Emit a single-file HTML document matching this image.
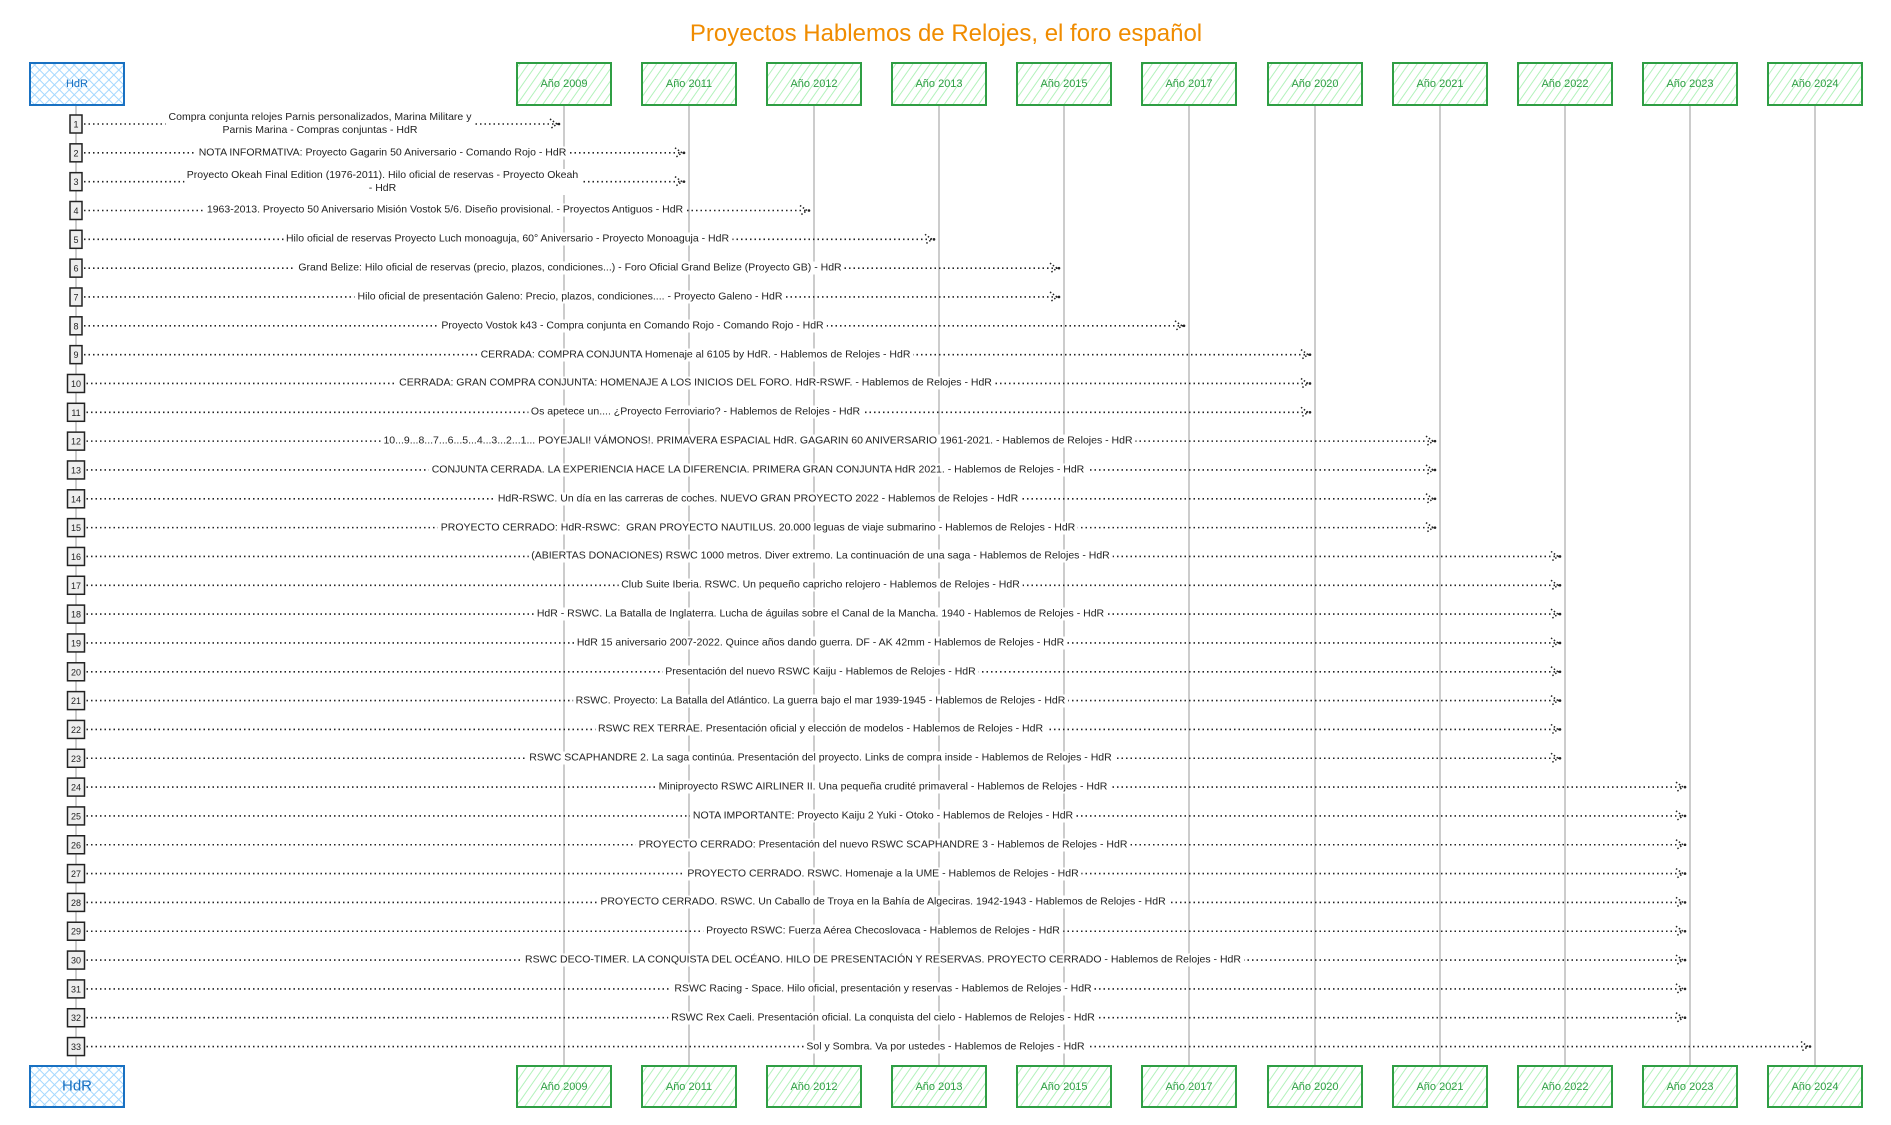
<!DOCTYPE html>
<html><head><meta charset="utf-8"><style>
html,body{margin:0;padding:0;background:#fff;}
body{width:1891px;height:1125px;position:relative;overflow:hidden;font-family:"Liberation Sans",sans-serif;}
.t{position:absolute;transform:translate(-50%,-50%);background:#fff;padding:0 3px;font-size:10.5px;color:#222;white-space:nowrap;text-align:center;line-height:13px;}
.lb{position:absolute;transform:translate(-50%,-50%);font-size:11px;color:#2f9e44;white-space:nowrap;}
</style></head><body>
<svg width="1891" height="1125" style="position:absolute;left:0;top:0">
<defs>
<pattern id="g" width="7" height="7" patternUnits="userSpaceOnUse" patternTransform="rotate(35)"><rect width="7" height="7" fill="#fff"/><line x1="0" y1="0" x2="0" y2="7" stroke="#b2f2bb" stroke-width="2"/></pattern>
<pattern id="b" width="7" height="7" patternUnits="userSpaceOnUse" patternTransform="rotate(45)"><rect width="7" height="7" fill="#fff"/><line x1="0" y1="0" x2="0" y2="7" stroke="#a5d8ff" stroke-width="2"/><line x1="0" y1="0" x2="7" y2="0" stroke="#a5d8ff" stroke-width="2"/></pattern>
</defs>
<text x="946" y="41" text-anchor="middle" font-family="Liberation Sans, sans-serif" font-size="24" fill="#f08c00">Proyectos Hablemos de Relojes, el foro español</text>
<g stroke="#aaa" stroke-width="1.2">
<line x1="76" y1="105" x2="76" y2="1066"/>
<line x1="564" y1="105" x2="564" y2="1066"/><line x1="689" y1="105" x2="689" y2="1066"/><line x1="814" y1="105" x2="814" y2="1066"/><line x1="939" y1="105" x2="939" y2="1066"/><line x1="1064" y1="105" x2="1064" y2="1066"/><line x1="1189" y1="105" x2="1189" y2="1066"/><line x1="1315" y1="105" x2="1315" y2="1066"/><line x1="1440" y1="105" x2="1440" y2="1066"/><line x1="1565" y1="105" x2="1565" y2="1066"/><line x1="1690" y1="105" x2="1690" y2="1066"/><line x1="1815" y1="105" x2="1815" y2="1066"/>
</g>
<g stroke="#1971c2" stroke-width="2" fill="url(#b)">
<rect x="30" y="63" width="94" height="42"/><rect x="30" y="1066" width="94" height="41"/>
</g>
<g stroke="#2f9e44" stroke-width="2" fill="url(#g)" id="boxes"></g>
<g id="rows"></g>
</svg>
<div id="labels"></div>
<script>
var xs=[564,689,814,939,1064,1189,1315,1440,1565,1690,1815];
var names=["Año 2009","Año 2011","Año 2012","Año 2013","Año 2015","Año 2017","Año 2020","Año 2021","Año 2022","Año 2023","Año 2024"];
var bx=document.getElementById('boxes'),NS="http://www.w3.org/2000/svg";
var lab=document.getElementById('labels');
xs.forEach(function(x,i){[[63,42],[1066,41]].forEach(function(p){var r=document.createElementNS(NS,'rect');r.setAttribute('x',x-47);r.setAttribute('y',p[0]);r.setAttribute('width',94);r.setAttribute('height',p[1]);bx.appendChild(r);
var d=document.createElement('div');d.className='lb';d.style.left=x+'px';d.style.top=(p[0]+p[1]/2)+'px';d.textContent=names[i];lab.appendChild(d);});});
var hd=document.createElement('div');hd.className='lb';hd.style.cssText='left:77px;top:84px;color:#1971c2';hd.textContent='HdR';lab.appendChild(hd);
hd=document.createElement('div');hd.className='lb';hd.style.cssText='left:77px;top:1086px;color:#1971c2;font-size:15px';hd.textContent='HdR';lab.appendChild(hd);
</script>
<div id="msgs">
<div class="t" data-r="1" data-t="0">Compra conjunta relojes Parnis personalizados, Marina Militare y<br>Parnis Marina - Compras conjuntas - HdR</div>
<div class="t" data-r="2" data-t="1">NOTA INFORMATIVA: Proyecto Gagarin 50 Aniversario - Comando Rojo - HdR</div>
<div class="t" data-r="3" data-t="1">Proyecto Okeah Final Edition (1976-2011). Hilo oficial de reservas - Proyecto Okeah<br>- HdR</div>
<div class="t" data-r="4" data-t="2">1963-2013. Proyecto 50 Aniversario Misión Vostok 5/6. Diseño provisional. - Proyectos Antiguos - HdR</div>
<div class="t" data-r="5" data-t="3">Hilo oficial de reservas Proyecto Luch monoaguja, 60° Aniversario - Proyecto Monoaguja - HdR</div>
<div class="t" data-r="6" data-t="4">Grand Belize: Hilo oficial de reservas (precio, plazos, condiciones...) - Foro Oficial Grand Belize (Proyecto GB) - HdR</div>
<div class="t" data-r="7" data-t="4">Hilo oficial de presentación Galeno: Precio, plazos, condiciones.... - Proyecto Galeno - HdR</div>
<div class="t" data-r="8" data-t="5">Proyecto Vostok k43 - Compra conjunta en Comando Rojo - Comando Rojo - HdR</div>
<div class="t" data-r="9" data-t="6">CERRADA: COMPRA CONJUNTA Homenaje al 6105 by HdR. - Hablemos de Relojes - HdR</div>
<div class="t" data-r="10" data-t="6">CERRADA: GRAN COMPRA CONJUNTA: HOMENAJE A LOS INICIOS DEL FORO. HdR-RSWF. - Hablemos de Relojes - HdR</div>
<div class="t" data-r="11" data-t="6">Os apetece un.... ¿Proyecto Ferroviario? - Hablemos de Relojes - HdR</div>
<div class="t" data-r="12" data-t="7">10...9...8...7...6...5...4...3...2...1... POYEJALI! VÁMONOS!. PRIMAVERA ESPACIAL HdR. GAGARIN 60 ANIVERSARIO 1961-2021. - Hablemos de Relojes - HdR</div>
<div class="t" data-r="13" data-t="7">CONJUNTA CERRADA. LA EXPERIENCIA HACE LA DIFERENCIA. PRIMERA GRAN CONJUNTA HdR 2021. - Hablemos de Relojes - HdR</div>
<div class="t" data-r="14" data-t="7">HdR-RSWC. Un día en las carreras de coches. NUEVO GRAN PROYECTO 2022 - Hablemos de Relojes - HdR</div>
<div class="t" data-r="15" data-t="7">PROYECTO CERRADO: HdR-RSWC:&nbsp; GRAN PROYECTO NAUTILUS. 20.000 leguas de viaje submarino - Hablemos de Relojes - HdR</div>
<div class="t" data-r="16" data-t="8">(ABIERTAS DONACIONES) RSWC 1000 metros. Diver extremo. La continuación de una saga - Hablemos de Relojes - HdR</div>
<div class="t" data-r="17" data-t="8">Club Suite Iberia. RSWC. Un pequeño capricho relojero - Hablemos de Relojes - HdR</div>
<div class="t" data-r="18" data-t="8">HdR - RSWC. La Batalla de Inglaterra. Lucha de águilas sobre el Canal de la Mancha. 1940 - Hablemos de Relojes - HdR</div>
<div class="t" data-r="19" data-t="8">HdR 15 aniversario 2007-2022. Quince años dando guerra. DF - AK 42mm - Hablemos de Relojes - HdR</div>
<div class="t" data-r="20" data-t="8">Presentación del nuevo RSWC Kaiju - Hablemos de Relojes - HdR</div>
<div class="t" data-r="21" data-t="8">RSWC. Proyecto: La Batalla del Atlántico. La guerra bajo el mar 1939-1945 - Hablemos de Relojes - HdR</div>
<div class="t" data-r="22" data-t="8">RSWC REX TERRAE. Presentación oficial y elección de modelos - Hablemos de Relojes - HdR</div>
<div class="t" data-r="23" data-t="8">RSWC SCAPHANDRE 2. La saga continúa. Presentación del proyecto. Links de compra inside - Hablemos de Relojes - HdR</div>
<div class="t" data-r="24" data-t="9">Miniproyecto RSWC AIRLINER II. Una pequeña crudité primaveral - Hablemos de Relojes - HdR</div>
<div class="t" data-r="25" data-t="9">NOTA IMPORTANTE: Proyecto Kaiju 2 Yuki - Otoko - Hablemos de Relojes - HdR</div>
<div class="t" data-r="26" data-t="9">PROYECTO CERRADO: Presentación del nuevo RSWC SCAPHANDRE 3 - Hablemos de Relojes - HdR</div>
<div class="t" data-r="27" data-t="9">PROYECTO CERRADO. RSWC. Homenaje a la UME - Hablemos de Relojes - HdR</div>
<div class="t" data-r="28" data-t="9">PROYECTO CERRADO. RSWC. Un Caballo de Troya en la Bahía de Algeciras. 1942-1943 - Hablemos de Relojes - HdR</div>
<div class="t" data-r="29" data-t="9">Proyecto RSWC: Fuerza Aérea Checoslovaca - Hablemos de Relojes - HdR</div>
<div class="t" data-r="30" data-t="9">RSWC DECO-TIMER. LA CONQUISTA DEL OCÉANO. HILO DE PRESENTACIÓN Y RESERVAS. PROYECTO CERRADO - Hablemos de Relojes - HdR</div>
<div class="t" data-r="31" data-t="9">RSWC Racing - Space. Hilo oficial, presentación y reservas - Hablemos de Relojes - HdR</div>
<div class="t" data-r="32" data-t="9">RSWC Rex Caeli. Presentación oficial. La conquista del cielo - Hablemos de Relojes - HdR</div>
<div class="t" data-r="33" data-t="10">Sol y Sombra. Va por ustedes - Hablemos de Relojes - HdR</div>
</div>
<script>
var rows=document.getElementById('rows');
document.querySelectorAll('#msgs .t').forEach(function(d){
 var r=+d.getAttribute('data-r'),t=xs[+d.getAttribute('data-t')];
 var y=124+(r-1)*28.83;
 d.style.left=((76+t)/2)+'px';d.style.top=y+'px';
 var w=r>9?17:12;
 var l=document.createElementNS(NS,'line');
 l.setAttribute('x1',76+w/2+2);l.setAttribute('y1',y);l.setAttribute('x2',t-6);l.setAttribute('y2',y);
 l.setAttribute('stroke','#222');l.setAttribute('stroke-width','1.6');l.setAttribute('stroke-dasharray','1.5 3');rows.appendChild(l);
 var p=document.createElementNS(NS,'path');
 p.setAttribute('d','M'+(t-14)+' '+(y-5)+' L'+(t-7)+' '+y+' L'+(t-14)+' '+(y+5));
 p.setAttribute('fill','none');p.setAttribute('stroke','#222');p.setAttribute('stroke-width','1.5');p.setAttribute('stroke-dasharray','1.5 2');rows.appendChild(p);
 var c=document.createElementNS(NS,'circle');c.setAttribute('cx',t-5);c.setAttribute('cy',y);c.setAttribute('r',1.3);c.setAttribute('fill','#222');rows.appendChild(c);
 var b=document.createElementNS(NS,'rect');b.setAttribute('x',76-w/2);b.setAttribute('y',y-9);b.setAttribute('width',w);b.setAttribute('height',18);
 b.setAttribute('fill','#eee');b.setAttribute('stroke','#222');b.setAttribute('stroke-width','1.5');rows.appendChild(b);
 var tx=document.createElementNS(NS,'text');tx.setAttribute('x',76);tx.setAttribute('y',y+3.5);tx.setAttribute('text-anchor','middle');
 tx.setAttribute('font-size','9');tx.setAttribute('font-family','Liberation Sans, sans-serif');tx.setAttribute('fill','#222');tx.textContent=r;rows.appendChild(tx);
});
</script>
</body></html>
